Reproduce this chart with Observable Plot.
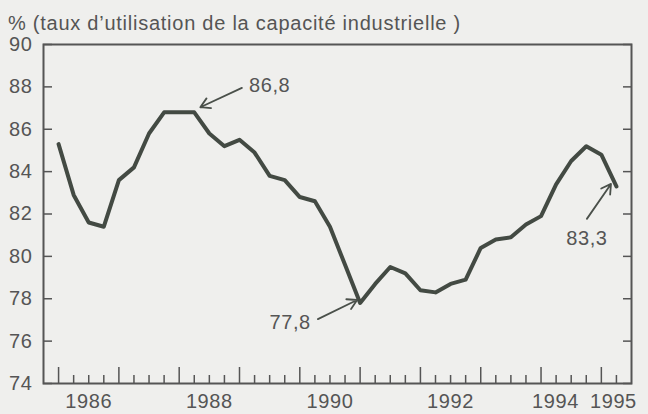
<!DOCTYPE html>
<html>
<head>
<meta charset="utf-8">
<script src="https://cdn.jsdelivr.net/npm/d3@7"></script>
<script src="https://cdn.jsdelivr.net/npm/@observablehq/plot@0.6"></script>
<style>
  html, body { margin: 0; padding: 0; background: #efefed; }
  #wrap { position: relative; width: 648px; height: 414px; overflow: hidden; background: #efefed; }
  #title { position: absolute; left: 8px; top: 13px; font-family: "Liberation Sans", Arial, sans-serif; font-size: 20px; line-height: 20px; letter-spacing: 0.75px; color: #555; white-space: nowrap; }
  svg text { letter-spacing: 0.6px; }
</style>
</head>
<body>
<div id="wrap"><div id="title">% (taux d’utilisation de la capacité industrielle )</div></div>
<script>
// Quarterly data, 1986 Q1 to 1995 Q2
const startYear = 1986;
const values = [
  85.3, 82.9, 81.6, 81.4,   // 1986
  83.6, 84.2, 85.8, 86.8,   // 1987
  86.8, 86.8, 85.8, 85.2,   // 1988
  85.5, 84.9, 83.8, 83.6,   // 1989
  82.8, 82.6, 81.4, 79.6,   // 1990
  77.8, 78.7, 79.5, 79.2,   // 1991
  78.4, 78.3, 78.7, 78.9,   // 1992
  80.4, 80.8, 80.9, 81.5,   // 1993
  81.9, 83.4, 84.5, 85.2,   // 1994
  84.8, 83.3                // 1995
];
const yTicks = [74, 76, 78, 80, 82, 84, 86, 88, 90];
const yearTicks = [1986, 1987, 1988, 1989, 1990, 1991, 1992, 1993, 1994, 1995];
const xLabels = ["1986", "1988", "1990", "1992", "1994", "1995"];
const xLabelPos = [1986.5, 1988.5, 1990.5, 1992.5, 1994.24, 1995.2];
const noteTexts = ["86,8", "77,8", "83,3"];
const noteX = [1989.5, 1989.84, 1994.76];
const noteY = [88.06, 76.87, 80.83];
const arrowFromX = [1989.04, 1990.30, 1994.76];
const arrowFromY = [87.95, 77.04, 81.77];
const arrowToX = [1988.35, 1990.95, 1995.16];
const arrowToY = [87.04, 77.94, 83.42];

const data = values.map((v, i) => ({t: startYear + i / 4, v}));
const quarterTicks = d3.range(0, 39).map(i => 1985.75 + i / 4).filter(t => !yearTicks.includes(t) && t > 1985.75 && t < 1995.5);
const labels = xLabels.map((label, i) => ({label, x: xLabelPos[i]}));
const notes = noteTexts.map((text, i) => ({text, x: noteX[i], y: noteY[i]}));
const arrows = arrowFromX.map((x1, i) => ({x1, y1: arrowFromY[i], x2: arrowToX[i], y2: arrowToY[i]}));

const ink = "#555";
const chart = Plot.plot({
  width: 648,
  height: 414,
  marginTop: 44,
  marginRight: 17,
  marginBottom: 31,
  marginLeft: 43,
  style: {fontFamily: "Liberation Sans, Arial, sans-serif", fontSize: "20px", background: "transparent", color: ink},
  x: {domain: [1985.75, 1995.5]},
  y: {domain: [74, 90]},
  marks: [
    Plot.axisY(yTicks, {anchor: "left", tickSize: -9, tickPadding: 20, stroke: ink, strokeWidth: 1.5, fill: ink, label: null, fontSize: 20}),
    Plot.axisY(yTicks, {anchor: "right", tickSize: -9, stroke: ink, strokeWidth: 1.5, fill: "none", label: null}),
    Plot.axisX(yearTicks, {anchor: "bottom", tickSize: -16, stroke: ink, strokeWidth: 1.5, fill: "none", label: null}),
    Plot.axisX(quarterTicks, {anchor: "bottom", tickSize: -8, stroke: ink, strokeWidth: 1.5, fill: "none", label: null}),
    Plot.text(labels, {x: "x", text: "label", frameAnchor: "bottom", dy: 24, fill: ink, fontSize: 20}),
    Plot.frame({stroke: ink, strokeWidth: 2}),
    Plot.line(data, {x: "t", y: "v", stroke: "#434a43", strokeWidth: 4, strokeLinejoin: "round", strokeLinecap: "round"}),
    Plot.arrow(arrows, {x1: "x1", y1: "y1", x2: "x2", y2: "y2", stroke: "#4a504a", strokeWidth: 1.8, headLength: 9}),
    Plot.text(notes, {x: "x", y: "y", text: "text", fill: ink, fontSize: 20})
  ]
});
document.getElementById("wrap").prepend(chart);
chart.style.position = "absolute";
chart.style.left = "0";
chart.style.top = "0";
</script>
</body>
</html>
